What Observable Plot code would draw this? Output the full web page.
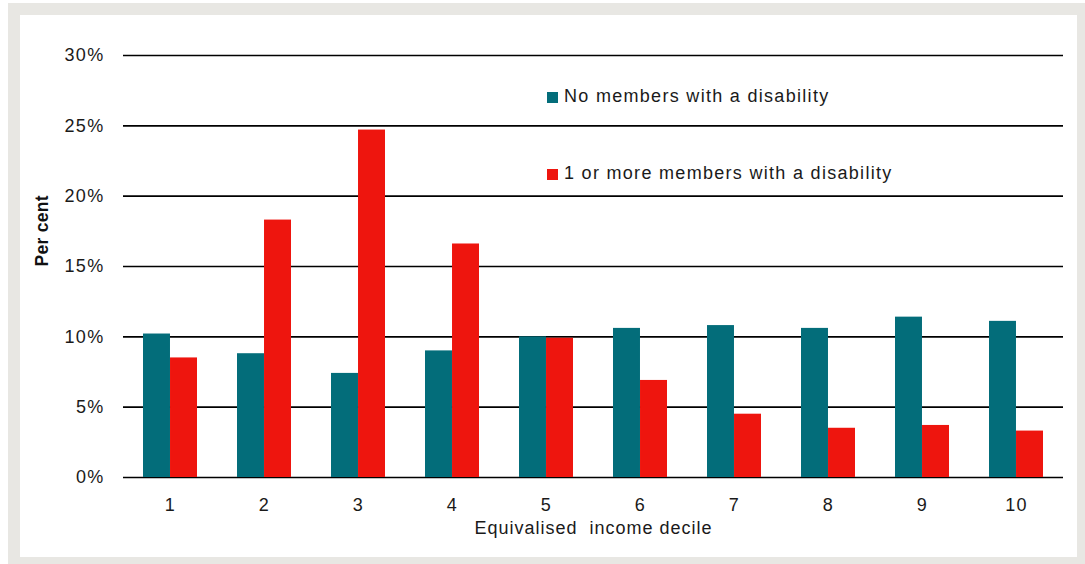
<!DOCTYPE html>
<html>
<head>
<meta charset="utf-8">
<script src="https://cdn.jsdelivr.net/npm/d3@7"></script>
<script src="https://cdn.jsdelivr.net/npm/@observablehq/plot@0.6"></script>
<style>
  html, body { margin: 0; padding: 0; background: #fff; overflow: hidden; }
  body { width: 1085px; height: 564px; position: relative; font-family: "Liberation Sans", Arial, sans-serif; }
  #frame { position: absolute; left: 8px; top: 3px; width: 1081px; height: 566px; box-sizing: border-box; border: 12px solid #e8e7e3; background: #fff; }
  #chart { position: absolute; left: 0; top: 0; }
  #chart svg text { letter-spacing: 1.3px; }
  #chart svg text.ylab { letter-spacing: 0.3px; }
  #chart svg text.xlab { letter-spacing: 1.0px; }
  .legend { position: absolute; font-size: 18px; letter-spacing: 1.3px; color: #1a1a1a; white-space: nowrap; line-height: 20px; }
  .legend .sw { display: inline-block; width: 11px; height: 11px; margin-right: 6px; vertical-align: -1px; }
</style>
</head>
<body>
<div id="frame"></div>
<div id="chart"></div>
<div class="legend" id="leg1" style="left:547px; top:86px;"></div>
<div class="legend" id="leg2" style="left:547px; top:163px;"></div>
<script>
const deciles = ["1", "2", "3", "4", "5", "6", "7", "8", "9", "10"];
const seriesNames = ["No members with a disability", "1 or more members with a disability"];
const noDisability = [10.2, 8.8, 7.4, 9.0, 10.0, 10.6, 10.8, 10.6, 11.4, 11.1];
const withDisability = [8.5, 18.3, 24.7, 16.6, 9.9, 6.9, 4.5, 3.5, 3.7, 3.3];
const yTicks = [0, 5, 10, 15, 20, 25, 30];
const colors = ["#036d7a", "#ee150e"];

const width = 1085, height = 564;
const marginLeft = 123, marginRight = 22, marginTop = 55, marginBottom = 87;
const padInner = 0.425;
const bw = (width - marginLeft - marginRight) / deciles.length * (1 - padInner);

const dataA = deciles.map((d, i) => ({decile: d, value: noDisability[i]}));
const dataB = deciles.map((d, i) => ({decile: d, value: withDisability[i]}));

const chart = Plot.plot({
  width, height, marginLeft, marginRight, marginTop, marginBottom,
  style: {fontFamily: "'Liberation Sans', Arial, sans-serif", fontSize: "18px", color: "#1a1a1a", background: "transparent"},
  x: {type: "band", domain: deciles, paddingInner: padInner, paddingOuter: padInner / 2, label: null},
  y: {domain: [0, 30], ticks: yTicks, label: null},
  marks: [
    Plot.ruleY(yTicks, {stroke: "#000", strokeWidth: 1.6}),
    Plot.barY(dataA, {x: "decile", y: "value", fill: colors[0], insetRight: bw / 2}),
    Plot.barY(dataB, {x: "decile", y: "value", fill: colors[1], insetLeft: bw / 2}),
    Plot.axisY({ticks: yTicks, tickSize: 0, tickPadding: 19, tickFormat: d => d + "%", label: null, fontSize: 18}),
    Plot.axisX({tickSize: 0, tickPadding: 21, label: null, fontSize: 18}),
    Plot.text(["Per cent"], {frameAnchor: "left", rotate: -90, dx: -81, fontWeight: "bold", fontSize: 17.5, fill: "#111"}),
    Plot.text(["Equivalised  income decile"], {frameAnchor: "bottom", dy: 56, fontSize: 18, fill: "#1a1a1a"})
  ]
});
chart.querySelectorAll("text").forEach(t => {
  if (t.textContent === "Per cent") t.setAttribute("class", "ylab");
  if (t.textContent.startsWith("Equivalised")) { t.setAttribute("class", "xlab"); t.style.whiteSpace = "pre"; }
});
document.getElementById("chart").appendChild(chart);

document.getElementById("leg1").innerHTML = `<span class="sw" style="background:${colors[0]}"></span>${seriesNames[0]}`;
document.getElementById("leg2").innerHTML = `<span class="sw" style="background:${colors[1]}"></span>${seriesNames[1]}`;
</script>
</body>
</html>
